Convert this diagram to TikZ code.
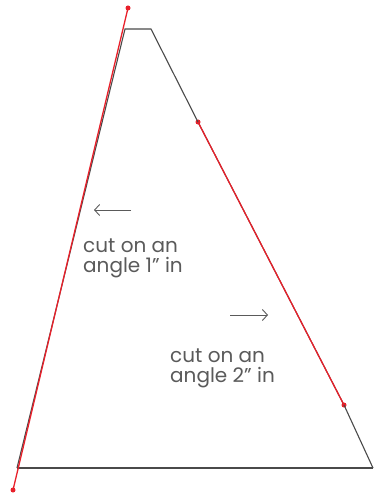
\documentclass[tikz,border=0pt]{standalone}
\usepackage{fontspec}
\setmainfont{Poppins}
\usetikzlibrary{arrows.meta}
\definecolor{cutred}{HTML}{E8202A}
\definecolor{edgegray}{HTML}{4A4A4A}
\definecolor{txtgray}{HTML}{5A5A5A}
\tikzset{
  edge/.style={draw=edgegray, line width=1.1pt},
  cutline/.style={draw=cutred, line width=1.3pt},
  dot/.style={circle, fill=cutred, inner sep=0pt, minimum size=5pt},
  lbl/.style={text=txtgray, font=\fontsize{20}{19.5}\selectfont, align=left, anchor=base west, inner sep=0pt},
  hint/.style={draw=txtgray, line width=0.9pt, -{Straight Barb[length=5pt, width=11pt]}}
}
\begin{document}
\begin{tikzpicture}[x=1pt, y=-1pt]
\useasboundingbox (0,0) rectangle (373,494);
% red cut-line end points
\node[dot] (a1) at (128,8) {};
\node[dot] (a2) at (13,490) {};
\node[dot] (b1) at (198,122) {};
\node[dot] (b2) at (344,405) {};
% trapezoid outline
\coordinate (tl) at (125,29);
\coordinate (tr) at (151,29);
\coordinate (br) at (373,468);
\coordinate (bl) at (17,468);
\coordinate (be) at (373,468);
\draw[edge] (bl) -- (tl) -- (tr) -- (b1.center) -- (b2.center) -- (br);
\draw[edge] (bl) -- (be);
% red cut lines
\draw[cutline] (a1.center) -- (a2.center);
\draw[cutline] (b1.center) -- (b2.center);
% labels
\coordinate (h1s) at (131,210);
\coordinate (h1e) at (94,210);
\draw[hint] (h1s) -- (h1e);
\node[lbl] (t1) at (83,272.2) {cut on an\\angle 1” in};
\coordinate (h2s) at (230,315);
\coordinate (h2e) at (268,315);
\draw[hint] (h2s) -- (h2e);
\node[lbl] (t2) at (170,382.2) {cut on an\\angle 2” in};
\end{tikzpicture}
\end{document}
